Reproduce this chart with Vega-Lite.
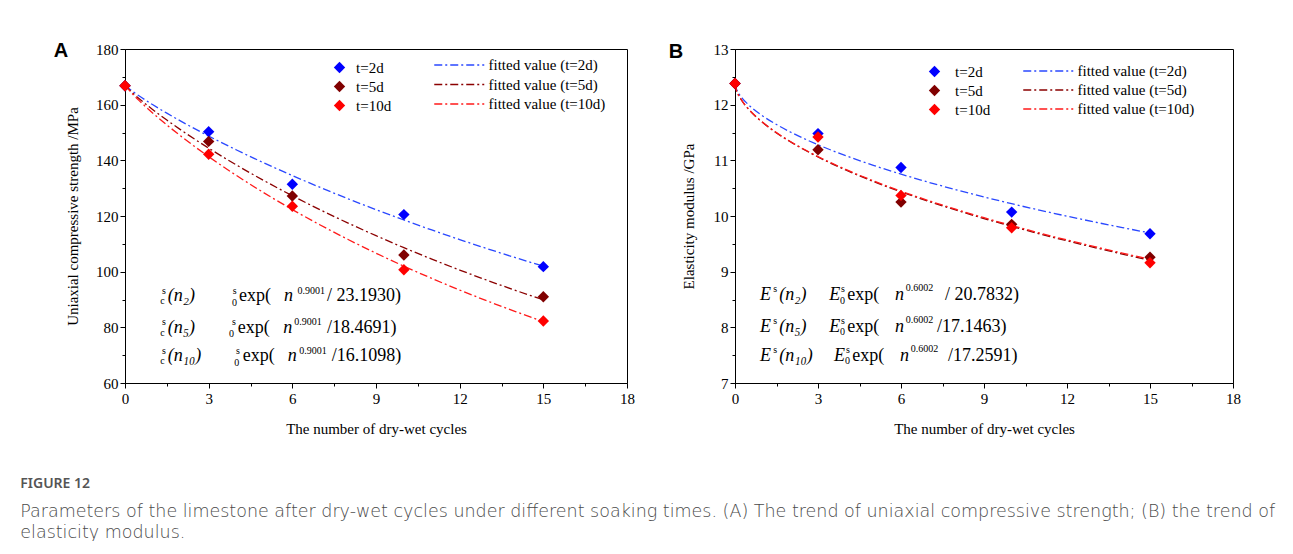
{
  "$schema": "https://vega.github.io/schema/vega-lite/v6.json",
  "background": "white",
  "padding": {"left": 20, "top": 40, "right": 0, "bottom": 0},
  "spacing": 33,
  "title": {
    "text": "FIGURE 12",
    "subtitle": ["Parameters of the limestone after dry-wet cycles under different soaking times. (A) The trend of uniaxial compressive strength; (B) the trend of", "elasticity modulus."],
    "orient": "bottom", "anchor": "start", "frame": "bounds",
    "font": "Noto Sans", "fontSize": 14, "fontWeight": 600, "color": "#555555",
    "subtitleFont": "DejaVu Sans", "subtitleFontSize": 17.5, "subtitleColor": "#4a4a4a", "subtitleFontWeight": 300,
    "subtitleLineHeight": 21, "subtitlePadding": 12, "offset": 40, "dx": -33
  },
  "hconcat": [
    {
      "width": 502, "height": 334,
      "layer": [
        {
          "data": {"values": [
            {"n":0,"v":167,"fit":"fitted value (t=2d)"},{"n":0.25,"v":164.95,"fit":"fitted value (t=2d)"},{"n":0.5,"v":163.19,"fit":"fitted value (t=2d)"},{"n":1,"v":159.95,"fit":"fitted value (t=2d)"},{"n":1.5,"v":156.94,"fit":"fitted value (t=2d)"},{"n":2,"v":154.09,"fit":"fitted value (t=2d)"},{"n":3,"v":148.72,"fit":"fitted value (t=2d)"},{"n":4,"v":143.72,"fit":"fitted value (t=2d)"},{"n":5,"v":138.99,"fit":"fitted value (t=2d)"},{"n":6,"v":134.52,"fit":"fitted value (t=2d)"},{"n":7,"v":130.26,"fit":"fitted value (t=2d)"},{"n":8,"v":126.19,"fit":"fitted value (t=2d)"},{"n":9,"v":122.29,"fit":"fitted value (t=2d)"},{"n":10,"v":118.56,"fit":"fitted value (t=2d)"},{"n":11,"v":114.98,"fit":"fitted value (t=2d)"},{"n":12,"v":111.53,"fit":"fitted value (t=2d)"},{"n":13,"v":108.22,"fit":"fitted value (t=2d)"},{"n":14,"v":105.03,"fit":"fitted value (t=2d)"},{"n":15,"v":101.96,"fit":"fitted value (t=2d)"},
            {"n":0,"v":167,"fit":"fitted value (t=5d)"},{"n":0.25,"v":164.42,"fit":"fitted value (t=5d)"},{"n":0.5,"v":162.22,"fit":"fitted value (t=5d)"},{"n":1,"v":158.2,"fit":"fitted value (t=5d)"},{"n":1.5,"v":154.47,"fit":"fitted value (t=5d)"},{"n":2,"v":150.95,"fit":"fitted value (t=5d)"},{"n":3,"v":144.38,"fit":"fitted value (t=5d)"},{"n":4,"v":138.3,"fit":"fitted value (t=5d)"},{"n":5,"v":132.62,"fit":"fitted value (t=5d)"},{"n":6,"v":127.28,"fit":"fitted value (t=5d)"},{"n":7,"v":122.23,"fit":"fitted value (t=5d)"},{"n":8,"v":117.46,"fit":"fitted value (t=5d)"},{"n":9,"v":112.93,"fit":"fitted value (t=5d)"},{"n":10,"v":108.62,"fit":"fitted value (t=5d)"},{"n":11,"v":104.51,"fit":"fitted value (t=5d)"},{"n":12,"v":100.59,"fit":"fitted value (t=5d)"},{"n":13,"v":96.86,"fit":"fitted value (t=5d)"},{"n":14,"v":93.28,"fit":"fitted value (t=5d)"},{"n":15,"v":89.87,"fit":"fitted value (t=5d)"},
            {"n":0,"v":167,"fit":"fitted value (t=10d)"},{"n":0.25,"v":164.05,"fit":"fitted value (t=10d)"},{"n":0.5,"v":161.54,"fit":"fitted value (t=10d)"},{"n":1,"v":156.95,"fit":"fitted value (t=10d)"},{"n":1.5,"v":152.71,"fit":"fitted value (t=10d)"},{"n":2,"v":148.73,"fit":"fitted value (t=10d)"},{"n":3,"v":141.33,"fit":"fitted value (t=10d)"},{"n":4,"v":134.53,"fit":"fitted value (t=10d)"},{"n":5,"v":128.22,"fit":"fitted value (t=10d)"},{"n":6,"v":122.31,"fit":"fitted value (t=10d)"},{"n":7,"v":116.77,"fit":"fitted value (t=10d)"},{"n":8,"v":111.56,"fit":"fitted value (t=10d)"},{"n":9,"v":106.64,"fit":"fitted value (t=10d)"},{"n":10,"v":101.98,"fit":"fitted value (t=10d)"},{"n":11,"v":97.58,"fit":"fitted value (t=10d)"},{"n":12,"v":93.4,"fit":"fitted value (t=10d)"},{"n":13,"v":89.43,"fit":"fitted value (t=10d)"},{"n":14,"v":85.66,"fit":"fitted value (t=10d)"},{"n":15,"v":82.07,"fit":"fitted value (t=10d)"}
          ]},
          "mark": {"type": "line", "strokeDash": [8, 3, 2, 3], "strokeWidth": 1.3, "interpolate": "monotone"},
          "encoding": {
            "x": {"field": "n", "type": "quantitative", "scale": {"domain": [0, 18], "nice": false, "zero": false},
                  "axis": {"values": [0, 3, 6, 9, 12, 15, 18], "title": "The number of dry-wet cycles", "tickSize": 5, "labelPadding": 3, "titlePadding": 15, "labelFlush": false, "labelOverlap": false}},
            "y": {"field": "v", "type": "quantitative", "scale": {"domain": [60, 180], "nice": false, "zero": false},
                  "axis": {"values": [60, 80, 100, 120, 140, 160, 180], "title": "Uniaxial compressive strength /MPa", "tickSize": 5, "labelPadding": 2, "titlePadding": 15, "labelOverlap": false}},
            "stroke": {"field": "fit", "type": "nominal",
                       "scale": {"domain": ["fitted value (t=2d)", "fitted value (t=5d)", "fitted value (t=10d)"], "range": ["#2a48ff", "#8b0000", "#ff1a1a"]},
                       "legend": {"orient": "none", "legendX": 308, "legendY": 8.5, "title": null, "symbolType": "M-1,0H7", "symbolSize": 156.25, "symbolStrokeWidth": 1.3, "symbolDash": [8, 3, 2, 3], "symbolFillColor": "transparent", "labelOffset": 40.5, "rowPadding": 3.5}}
          }
        },
        {
          "data": {"values": [
            {"n":0,"v":166.8,"series":"t=2d"},{"n":3,"v":150.3,"series":"t=2d"},{"n":6,"v":131.4,"series":"t=2d"},{"n":10,"v":120.5,"series":"t=2d"},{"n":15,"v":101.8,"series":"t=2d"},
            {"n":0,"v":166.8,"series":"t=5d"},{"n":3,"v":146.8,"series":"t=5d"},{"n":6,"v":127.2,"series":"t=5d"},{"n":10,"v":106.0,"series":"t=5d"},{"n":15,"v":91.0,"series":"t=5d"},
            {"n":0,"v":166.8,"series":"t=10d"},{"n":3,"v":142.2,"series":"t=10d"},{"n":6,"v":123.5,"series":"t=10d"},{"n":10,"v":100.7,"series":"t=10d"},{"n":15,"v":82.3,"series":"t=10d"}
          ]},
          "mark": {"type": "point", "shape": "diamond", "filled": true, "size": 130, "opacity": 1},
          "encoding": {
            "x": {"field": "n", "type": "quantitative", "axis": {"orient": "bottom", "values": [1.5, 4.5, 7.5, 10.5, 13.5, 16.5], "labels": false, "domain": false, "tickSize": 3, "title": null}},
            "y": {"field": "v", "type": "quantitative", "axis": {"orient": "left", "values": [70, 90, 110, 130, 150, 170], "labels": false, "domain": false, "tickSize": 3, "title": null}},
            "fill": {"field": "series", "type": "nominal",
                     "scale": {"domain": ["t=2d", "t=5d", "t=10d"], "range": ["#0000ff", "#800000", "#ff0000"]},
                     "legend": {"orient": "none", "legendX": 207, "legendY": 11, "title": null, "symbolType": "diamond", "symbolSize": 130, "labelOffset": 9, "rowPadding": 3}}
          }
        },
        {
          "data": {"values": [
            {"t":"exp(","x":4.088,"y":91.26},{"t":"/ 23.1930)","x":7.243,"y":91.26},
            {"t":"exp(","x":4.041,"y":79.94},{"t":"/18.4691)","x":7.243,"y":79.94},
            {"t":"exp(","x":4.22,"y":69.7},{"t":"/16.1098)","x":7.412,"y":69.7}
          ]},
          "mark": {"type": "text", "align": "left", "baseline": "middle", "fontSize": 18, "font": "Liberation Serif", "color": "black"},
          "encoding": {
            "x": {"field": "x", "type": "quantitative", "axis": null},
            "y": {"field": "y", "type": "quantitative", "axis": null},
            "text": {"field": "t"}
          }
        },
        {
          "data": {"values": [
            {"t":"(n₂)","x":1.531,"y":91.26},{"t":"n","x":5.701,"y":91.26},
            {"t":"(n₅)","x":1.531,"y":79.94},{"t":"n","x":5.676,"y":79.94},
            {"t":"(n₁₀)","x":1.531,"y":69.7},{"t":"n","x":5.834,"y":69.7}
          ]},
          "mark": {"type": "text", "align": "left", "baseline": "middle", "fontSize": 18, "fontStyle": "italic", "font": "Liberation Serif", "color": "black"},
          "encoding": {
            "x": {"field": "x", "type": "quantitative", "axis": null},
            "y": {"field": "y", "type": "quantitative", "axis": null},
            "text": {"field": "t"}
          }
        },
        {
          "data": {"values": [
            {"t":"s","x":1.326,"y":93.06},{"t":"c","x":1.265,"y":89.46},{"t":"s","x":3.862,"y":93.06},{"t":"0","x":3.84,"y":88.76},{"t":"0.9001","x":6.185,"y":93.06},
            {"t":"s","x":1.326,"y":81.74},{"t":"c","x":1.265,"y":78.14},{"t":"s","x":3.837,"y":81.74},{"t":"0","x":3.729,"y":77.44},{"t":"0.9001","x":6.071,"y":81.74},
            {"t":"s","x":1.326,"y":71.5},{"t":"c","x":1.265,"y":67.9},{"t":"s","x":3.98,"y":71.5},{"t":"0","x":3.919,"y":67.2},{"t":"0.9001","x":6.25,"y":71.5}
          ]},
          "mark": {"type": "text", "align": "left", "baseline": "middle", "fontSize": 10, "font": "Liberation Serif", "color": "black"},
          "encoding": {
            "x": {"field": "x", "type": "quantitative", "axis": null},
            "y": {"field": "y", "type": "quantitative", "axis": null},
            "text": {"field": "t"}
          }
        },
        {
          "data": {"values": [{"t":"A","x":-2.295,"y":179.3}]},
          "mark": {"type": "text", "align": "center", "baseline": "middle", "fontSize": 20, "fontWeight": "bold", "font": "Liberation Sans", "color": "black"},
          "encoding": {
            "x": {"field": "x", "type": "quantitative", "axis": null},
            "y": {"field": "y", "type": "quantitative", "axis": null},
            "text": {"field": "t"}
          }
        }
      ],
      "resolve": {"axis": {"x": "independent", "y": "independent"}}
    },
    {
      "width": 498, "height": 334,
      "layer": [
        {
          "data": {"values": [
            {"n":0,"v":12.38,"fit":"fitted value (t=2d)"},{"n":0.05,"v":12.282,"fit":"fitted value (t=2d)"},{"n":0.1,"v":12.231,"fit":"fitted value (t=2d)"},{"n":0.25,"v":12.123,"fit":"fitted value (t=2d)"},{"n":0.5,"v":11.993,"fit":"fitted value (t=2d)"},{"n":1,"v":11.798,"fit":"fitted value (t=2d)"},{"n":1.5,"v":11.643,"fit":"fitted value (t=2d)"},{"n":2,"v":11.509,"fit":"fitted value (t=2d)"},{"n":3,"v":11.28,"fit":"fitted value (t=2d)"},{"n":4,"v":11.084,"fit":"fitted value (t=2d)"},{"n":5,"v":10.91,"fit":"fitted value (t=2d)"},{"n":6,"v":10.752,"fit":"fitted value (t=2d)"},{"n":7,"v":10.606,"fit":"fitted value (t=2d)"},{"n":8,"v":10.47,"fit":"fitted value (t=2d)"},{"n":9,"v":10.342,"fit":"fitted value (t=2d)"},{"n":10,"v":10.221,"fit":"fitted value (t=2d)"},{"n":11,"v":10.106,"fit":"fitted value (t=2d)"},{"n":12,"v":9.997,"fit":"fitted value (t=2d)"},{"n":13,"v":9.892,"fit":"fitted value (t=2d)"},{"n":14,"v":9.792,"fit":"fitted value (t=2d)"},{"n":15,"v":9.695,"fit":"fitted value (t=2d)"},
            {"n":0,"v":12.38,"fit":"fitted value (t=5d)"},{"n":0.05,"v":12.261,"fit":"fitted value (t=5d)"},{"n":0.1,"v":12.2,"fit":"fitted value (t=5d)"},{"n":0.25,"v":12.07,"fit":"fitted value (t=5d)"},{"n":0.5,"v":11.913,"fit":"fitted value (t=5d)"},{"n":1,"v":11.679,"fit":"fitted value (t=5d)"},{"n":1.5,"v":11.492,"fit":"fitted value (t=5d)"},{"n":2,"v":11.333,"fit":"fitted value (t=5d)"},{"n":3,"v":11.06,"fit":"fitted value (t=5d)"},{"n":4,"v":10.827,"fit":"fitted value (t=5d)"},{"n":5,"v":10.621,"fit":"fitted value (t=5d)"},{"n":6,"v":10.435,"fit":"fitted value (t=5d)"},{"n":7,"v":10.263,"fit":"fitted value (t=5d)"},{"n":8,"v":10.104,"fit":"fitted value (t=5d)"},{"n":9,"v":9.955,"fit":"fitted value (t=5d)"},{"n":10,"v":9.814,"fit":"fitted value (t=5d)"},{"n":11,"v":9.681,"fit":"fitted value (t=5d)"},{"n":12,"v":9.554,"fit":"fitted value (t=5d)"},{"n":13,"v":9.433,"fit":"fitted value (t=5d)"},{"n":14,"v":9.317,"fit":"fitted value (t=5d)"},{"n":15,"v":9.205,"fit":"fitted value (t=5d)"},
            {"n":0,"v":12.38,"fit":"fitted value (t=10d)"},{"n":0.05,"v":12.262,"fit":"fitted value (t=10d)"},{"n":0.1,"v":12.201,"fit":"fitted value (t=10d)"},{"n":0.25,"v":12.072,"fit":"fitted value (t=10d)"},{"n":0.5,"v":11.916,"fit":"fitted value (t=10d)"},{"n":1,"v":11.683,"fit":"fitted value (t=10d)"},{"n":1.5,"v":11.498,"fit":"fitted value (t=10d)"},{"n":2,"v":11.339,"fit":"fitted value (t=10d)"},{"n":3,"v":11.068,"fit":"fitted value (t=10d)"},{"n":4,"v":10.837,"fit":"fitted value (t=10d)"},{"n":5,"v":10.632,"fit":"fitted value (t=10d)"},{"n":6,"v":10.446,"fit":"fitted value (t=10d)"},{"n":7,"v":10.276,"fit":"fitted value (t=10d)"},{"n":8,"v":10.117,"fit":"fitted value (t=10d)"},{"n":9,"v":9.969,"fit":"fitted value (t=10d)"},{"n":10,"v":9.829,"fit":"fitted value (t=10d)"},{"n":11,"v":9.696,"fit":"fitted value (t=10d)"},{"n":12,"v":9.57,"fit":"fitted value (t=10d)"},{"n":13,"v":9.45,"fit":"fitted value (t=10d)"},{"n":14,"v":9.334,"fit":"fitted value (t=10d)"},{"n":15,"v":9.223,"fit":"fitted value (t=10d)"}
          ]},
          "mark": {"type": "line", "strokeDash": [8, 3, 2, 3], "strokeWidth": 1.3, "interpolate": "monotone"},
          "encoding": {
            "x": {"field": "n", "type": "quantitative", "scale": {"domain": [0, 18], "nice": false, "zero": false},
                  "axis": {"values": [0, 3, 6, 9, 12, 15, 18], "title": "The number of dry-wet cycles", "tickSize": 5, "labelPadding": 3, "titlePadding": 15, "labelFlush": false, "labelOverlap": false}},
            "y": {"field": "v", "type": "quantitative", "scale": {"domain": [7, 13], "nice": false, "zero": false},
                  "axis": {"values": [7, 8, 9, 10, 11, 12, 13], "title": "Elasticity modulus /GPa", "tickSize": 5, "labelPadding": 2, "titlePadding": 17, "labelOverlap": false}},
            "stroke": {"field": "fit", "type": "nominal",
                       "scale": {"domain": ["fitted value (t=2d)", "fitted value (t=5d)", "fitted value (t=10d)"], "range": ["#2a48ff", "#8b0000", "#ff1a1a"]},
                       "legend": {"orient": "none", "legendX": 287, "legendY": 14.5, "title": null, "symbolType": "M-1,0H7", "symbolSize": 156.25, "symbolStrokeWidth": 1.3, "symbolDash": [8, 3, 2, 3], "symbolFillColor": "transparent", "labelOffset": 40.5, "rowPadding": 3}}
          }
        },
        {
          "data": {"values": [
            {"n":0,"v":12.38,"series":"t=2d"},{"n":3,"v":11.48,"series":"t=2d"},{"n":6,"v":10.87,"series":"t=2d"},{"n":10,"v":10.07,"series":"t=2d"},{"n":15,"v":9.68,"series":"t=2d"},
            {"n":0,"v":12.38,"series":"t=5d"},{"n":3,"v":11.19,"series":"t=5d"},{"n":6,"v":10.25,"series":"t=5d"},{"n":10,"v":9.85,"series":"t=5d"},{"n":15,"v":9.26,"series":"t=5d"},
            {"n":0,"v":12.38,"series":"t=10d"},{"n":3,"v":11.42,"series":"t=10d"},{"n":6,"v":10.37,"series":"t=10d"},{"n":10,"v":9.79,"series":"t=10d"},{"n":15,"v":9.16,"series":"t=10d"}
          ]},
          "mark": {"type": "point", "shape": "diamond", "filled": true, "size": 130, "opacity": 1},
          "encoding": {
            "x": {"field": "n", "type": "quantitative", "axis": {"orient": "bottom", "values": [1.5, 4.5, 7.5, 10.5, 13.5, 16.5], "labels": false, "domain": false, "tickSize": 3, "title": null}},
            "y": {"field": "v", "type": "quantitative", "axis": {"orient": "left", "values": [7.5, 8.5, 9.5, 10.5, 11.5, 12.5], "labels": false, "domain": false, "tickSize": 3, "title": null}},
            "fill": {"field": "series", "type": "nominal",
                     "scale": {"domain": ["t=2d", "t=5d", "t=10d"], "range": ["#0000ff", "#800000", "#ff0000"]},
                     "legend": {"orient": "none", "legendX": 192, "legendY": 15, "title": null, "symbolType": "diamond", "symbolSize": 130, "labelOffset": 13, "rowPadding": 3}}
          }
        },
        {
          "data": {"values": [
            {"t":"exp(","x":4.059,"y":8.572},{"t":"/ 20.7832)","x":7.59,"y":8.572},
            {"t":"exp(","x":4.059,"y":8.003},{"t":"/17.1463)","x":7.301,"y":8.003},
            {"t":"exp(","x":4.24,"y":7.488},{"t":"/17.2591)","x":7.699,"y":7.488}
          ]},
          "mark": {"type": "text", "align": "left", "baseline": "middle", "fontSize": 18, "font": "Liberation Serif", "color": "black"},
          "encoding": {
            "x": {"field": "x", "type": "quantitative", "axis": null},
            "y": {"field": "y", "type": "quantitative", "axis": null},
            "text": {"field": "t"}
          }
        },
        {
          "data": {"values": [
            {"t":"E","x":0.904,"y":8.572},{"t":"(n₂)","x":1.601,"y":8.572},{"t":"E","x":3.408,"y":8.572},{"t":"n","x":5.783,"y":8.572},
            {"t":"E","x":0.904,"y":8.003},{"t":"(n₅)","x":1.601,"y":8.003},{"t":"E","x":3.408,"y":8.003},{"t":"n","x":5.783,"y":8.003},
            {"t":"E","x":0.904,"y":7.488},{"t":"(n₁₀)","x":1.601,"y":7.488},{"t":"E","x":3.578,"y":7.488},{"t":"n","x":5.964,"y":7.488}
          ]},
          "mark": {"type": "text", "align": "left", "baseline": "middle", "fontSize": 18, "fontStyle": "italic", "font": "Liberation Serif", "color": "black"},
          "encoding": {
            "x": {"field": "x", "type": "quantitative", "axis": null},
            "y": {"field": "y", "type": "quantitative", "axis": null},
            "text": {"field": "t"}
          }
        },
        {
          "data": {"values": [
            {"t":"s","x":1.384,"y":8.68},{"t":"s","x":3.831,"y":8.68},{"t":"0","x":3.795,"y":8.482},{"t":"0.6002","x":6.17,"y":8.698},
            {"t":"s","x":1.384,"y":8.111},{"t":"s","x":3.831,"y":8.111},{"t":"0","x":3.795,"y":7.913},{"t":"0.6002","x":6.17,"y":8.129},
            {"t":"s","x":1.384,"y":7.596},{"t":"s","x":4.012,"y":7.596},{"t":"0","x":3.976,"y":7.398},{"t":"0.6002","x":6.351,"y":7.614}
          ]},
          "mark": {"type": "text", "align": "left", "baseline": "middle", "fontSize": 10, "font": "Liberation Serif", "color": "black"},
          "encoding": {
            "x": {"field": "x", "type": "quantitative", "axis": null},
            "y": {"field": "y", "type": "quantitative", "axis": null},
            "text": {"field": "t"}
          }
        },
        {
          "data": {"values": [{"t":"B","x":-2.133,"y":12.95}]},
          "mark": {"type": "text", "align": "center", "baseline": "middle", "fontSize": 20, "fontWeight": "bold", "font": "Liberation Sans", "color": "black"},
          "encoding": {
            "x": {"field": "x", "type": "quantitative", "axis": null},
            "y": {"field": "y", "type": "quantitative", "axis": null},
            "text": {"field": "t"}
          }
        }
      ],
      "resolve": {"axis": {"x": "independent", "y": "independent"}}
    }
  ],
  "resolve": {"scale": {"fill": "independent", "stroke": "independent"}},
  "config": {
    "view": {"stroke": "black", "strokeWidth": 1},
    "axis": {"grid": false, "domainColor": "black", "tickColor": "black", "labelColor": "black", "titleColor": "black",
             "labelFont": "Liberation Serif", "labelFontSize": 15, "titleFont": "Liberation Serif", "titleFontSize": 15, "titleFontWeight": "normal", "domainWidth": 1, "tickWidth": 1},
    "legend": {"labelFont": "Liberation Serif", "labelFontSize": 15, "labelColor": "black", "padding": 0},
    "text": {"font": "Liberation Serif"}
  }
}
